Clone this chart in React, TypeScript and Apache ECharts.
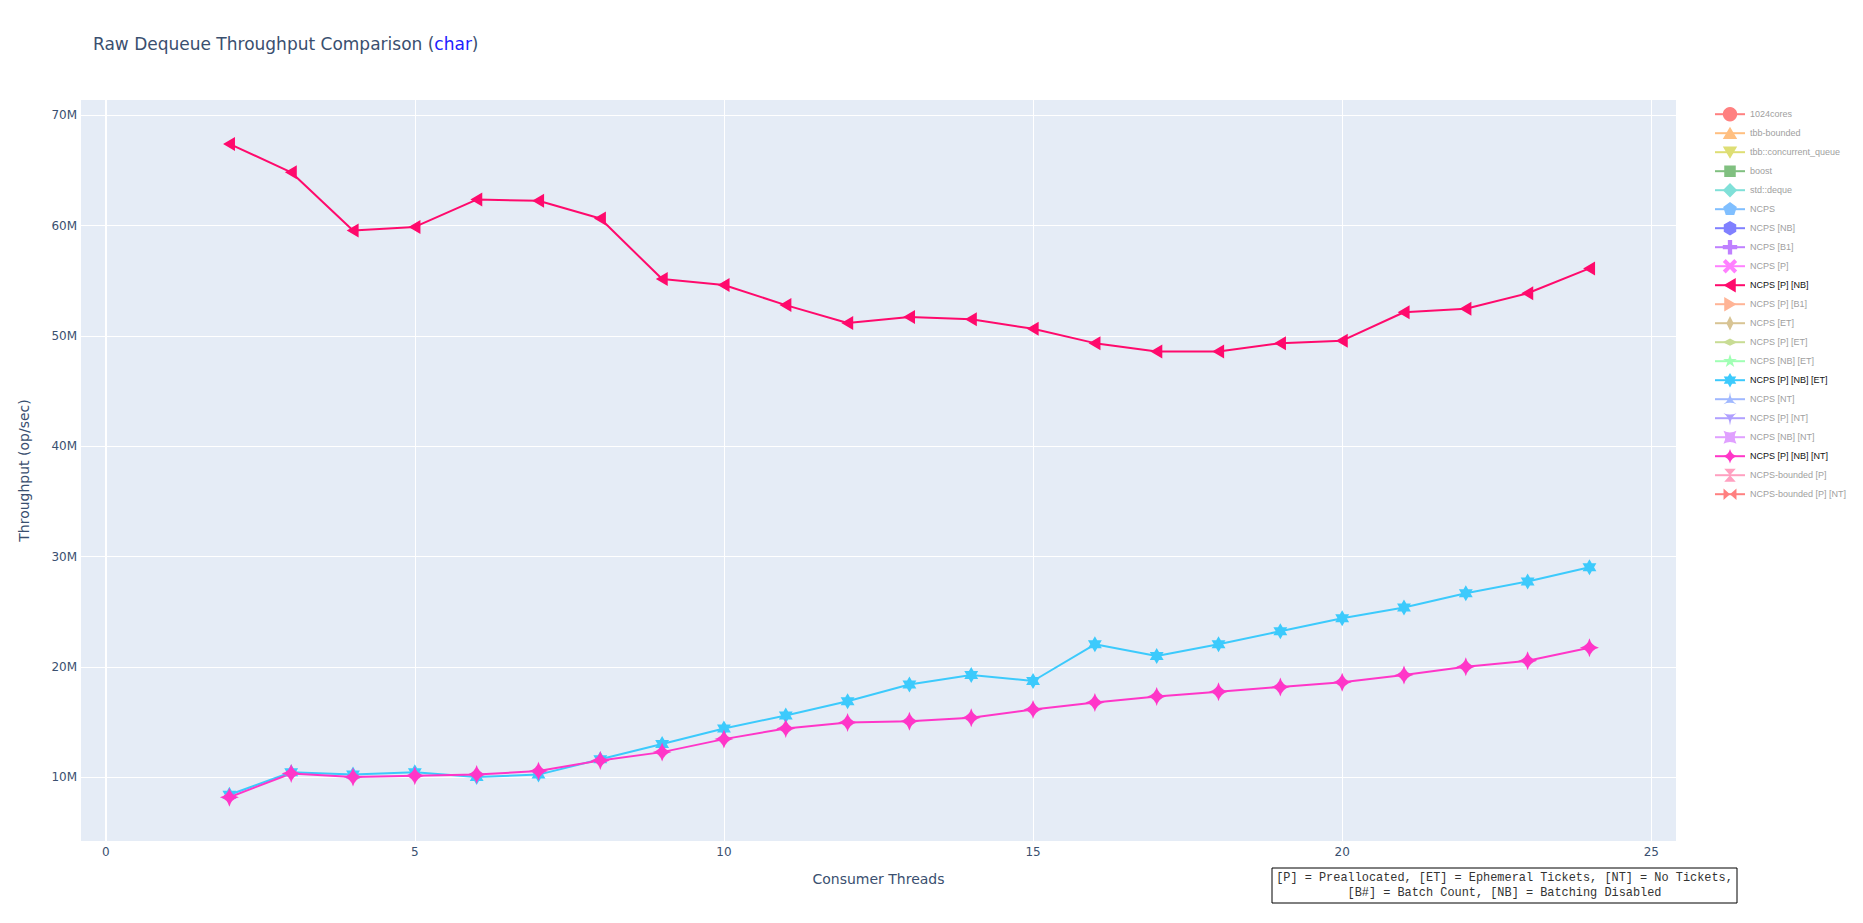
import React, { useEffect, useRef } from "react";
import * as echarts from "echarts";

const threads = [2, 3, 4, 5, 6, 7, 8, 9, 10, 11, 12, 13, 14, 15, 16, 17, 18, 19, 20, 21, 22, 23, 24];

// values in millions of op/sec
const ncpsPNB = [67.42, 64.84, 59.57, 59.89, 62.37, 62.26, 60.65, 55.16, 54.62, 52.8, 51.18, 51.72, 51.51, 50.65, 49.35, 48.6, 48.6, 49.35, 49.57, 52.15, 52.47, 53.87, 56.13];
const ncpsPNBET = [8.39, 10.43, 10.22, 10.43, 10.0, 10.22, 11.61, 13.0, 14.41, 15.59, 16.88, 18.39, 19.25, 18.71, 22.04, 20.97, 22.04, 23.23, 24.41, 25.38, 26.67, 27.74, 29.03];
const ncpsPNBNT = [8.17, 10.32, 10.0, 10.11, 10.22, 10.54, 11.51, 12.26, 13.44, 14.41, 14.95, 15.05, 15.38, 16.13, 16.77, 17.31, 17.74, 18.17, 18.6, 19.25, 20.0, 20.54, 21.72];

const xTicks = [0, 5, 10, 15, 20, 25];
const yTicks = [10, 20, 30, 40, 50, 60, 70];

const seriesNames = [
  "1024cores", "tbb-bounded", "tbb::concurrent_queue", "boost", "std::deque",
  "NCPS", "NCPS [NB]", "NCPS [B1]", "NCPS [P]", "NCPS [P] [NB]", "NCPS [P] [B1]",
  "NCPS [ET]", "NCPS [P] [ET]", "NCPS [NB] [ET]", "NCPS [P] [NB] [ET]",
  "NCPS [NT]", "NCPS [P] [NT]", "NCPS [NB] [NT]", "NCPS [P] [NB] [NT]",
  "NCPS-bounded [P]", "NCPS-bounded [P] [NT]",
];

const sq = (d: string) => `path://M0,0 L0.01,0 L0,0.01 Z M20,20 L19.99,20 L20,19.99 Z ${d}`;

const SYM: Record<string, string> = {
  circle: "circle",
  triUp: sq("M10,1 L20,18 L0,18 Z"),
  triDown: sq("M0,2 L20,2 L10,19 Z"),
  square: sq("M2,2 L18,2 L18,18 L2,18 Z"),
  diamond: sq("M10,0 L20,10 L10,20 L0,10 Z"),
  pentagon: sq("M10,0 L19.5,6.9 L15.9,18.1 L4.1,18.1 L0.5,6.9 Z"),
  hexagon: sq("M10,0 L18.66,5 L18.66,15 L10,20 L1.34,15 L1.34,5 Z"),
  cross: sq("M7,0 L13,0 L13,7 L20,7 L20,13 L13,13 L13,20 L7,20 L7,13 L0,13 L0,7 L7,7 Z"),
  x: sq("M0,4 L4,0 L10,6 L16,0 L20,4 L14,10 L20,16 L16,20 L10,14 L4,20 L0,16 L6,10 Z"),
  triLeft: sq("M1,10 L18,0 L18,20 Z"),
  triRight: sq("M19,10 L2,0 L2,20 Z"),
  diamondTall: sq("M10,0 L15,10 L10,20 L5,10 Z"),
  diamondWide: sq("M0,10 L10,5 L20,10 L10,15 Z"),
  star5: sq("M10,0 L12.25,6.91 L19.51,6.91 L13.63,11.18 L15.88,18.09 L10,13.82 L4.12,18.09 L6.37,11.18 L0.49,6.91 L7.75,6.91 Z"),
  star6: sq("M10,0 L12.89,5 L18.66,5 L15.77,10 L18.66,15 L12.89,15 L10,20 L7.11,15 L1.34,15 L4.23,10 L1.34,5 L7.11,5 Z"),
  starTriUp: sq("M10,0 Q11,12 19,17 Q10,13 1,17 Q9,12 10,0 Z"),
  starTriDown: sq("M10,20 Q11,8 19,3 Q10,7 1,3 Q9,8 10,20 Z"),
  starSquare: sq("M1,1 Q10,6 19,1 Q14,10 19,19 Q10,14 1,19 Q6,10 1,1 Z"),
  starDiamond: sq("M10,0 Q12,8 20,10 Q12,12 10,20 Q8,12 0,10 Q8,8 10,0 Z"),
  hourglass: sq("M2,1 L18,1 L10,10 Z M10,10 L18,19 L2,19 Z"),
  bowtie: sq("M1,2 L1,18 L10,10 Z M10,10 L19,2 L19,18 Z"),
};

const seriesSymbols = [
  "circle", "triUp", "triDown", "square", "diamond",
  "pentagon", "hexagon", "cross", "x", "triLeft", "triRight",
  "diamondTall", "diamondWide", "star5", "star6",
  "starTriUp", "starTriDown", "starSquare", "starDiamond",
  "hourglass", "bowtie",
];

const seriesColors = [
  "#ff8080", "#ffbf80", "#dede74", "#80c080", "#80e0d8",
  "#80bfff", "#8080ff", "#bf80ff", "#ff80ff", "#ff0a6c", "#ffb496",
  "#d8c494", "#c8dc94", "#a0ffb4", "#3ccafc",
  "#a0b8ff", "#b0a0ff", "#e0a0ff", "#ff36c8",
  "#ffa0c0", "#ff8080",
];

const visibleData: Record<string, number[]> = {
  "NCPS [P] [NB]": ncpsPNB,
  "NCPS [P] [NB] [ET]": ncpsPNBET,
  "NCPS [P] [NB] [NT]": ncpsPNBNT,
};

const markerSizes: Record<string, any> = {
  "NCPS [P] [NB]": 14,
  "NCPS [P] [NB] [ET]": 16,
  "NCPS [P] [NB] [NT]": 19,
};

const FONT = "DejaVu Sans";

export default function App() {
  const ref = useRef<HTMLDivElement>(null);
  useEffect(() => {
    if (!ref.current) return;
    const chart = echarts.init(ref.current, undefined, { renderer: "svg" });
    const series: any[] = seriesNames.map((name, i) => {
      const vals = visibleData[name];
      return {
        name,
        type: "line",
        data: vals ? threads.map((t, j) => [t, vals[j]]) : [],
        symbol: SYM[seriesSymbols[i]],
        symbolSize: markerSizes[name] || 12,
        showSymbol: true,
        color: seriesColors[i],
        itemStyle: { color: seriesColors[i], borderWidth: 0 },
        lineStyle: { color: seriesColors[i], width: 2 },
        emphasis: { disabled: true },
        z: 3,
      };
    });
    series.push({
      name: "__zero",
      type: "line",
      data: [],
      silent: true,
      markLine: {
        silent: true,
        symbol: "none",
        label: { show: false },
        lineStyle: { color: "#ffffff", width: 2, type: "solid" },
        data: [{ xAxis: 0 }],
      },
      z: 1,
    });
    const option: any = {
      animation: false,
      backgroundColor: "#ffffff",
      title: {
        text: "{a|Raw Dequeue Throughput Comparison (}{b|char}{a|)}",
        left: 93,
        top: 35,
        padding: 0,
        textStyle: {
          fontWeight: "normal",
          rich: {
            a: { fontFamily: FONT, fontSize: 17, fontWeight: "normal", color: "#3a4f6f" },
            b: { fontFamily: FONT, fontSize: 17, fontWeight: "normal", color: "#2020ff" },
          },
        },
      },
      legend: {
        orient: "vertical",
        left: 1714,
        top: 107,
        itemWidth: 30,
        itemHeight: 18,
        itemGap: 4.6,
        padding: 0,
        textStyle: { fontFamily: "Liberation Sans", fontSize: 9, color: "#999999" },
        data: seriesNames.map((name) => ({
          name,
          textStyle: { color: visibleData[name] ? "#111111" : "#a0a0a0" },
        })),
        selectedMode: false,
      },
      grid: {
        left: 81,
        right: 187,
        top: 100,
        bottom: 82,
        show: true,
        backgroundColor: "#E5ECF6",
        borderWidth: 0,
        containLabel: false,
      },
      xAxis: {
        type: "value",
        min: -0.4,
        max: 25.4,
        name: "Consumer Threads",
        nameLocation: "middle",
        nameGap: 31,
        nameTextStyle: { fontFamily: FONT, fontSize: 14, color: "#3a4f6f" },
        axisLine: { show: false },
        axisTick: { show: false, customValues: xTicks },
        axisLabel: {
          customValues: xTicks,
          fontFamily: FONT,
          fontSize: 12,
          color: "#3a4f6f",
          margin: 5,
        },
        splitLine: { show: true, lineStyle: { color: "#ffffff", width: 1 } },
      },
      yAxis: {
        type: "value",
        min: 4.2,
        max: 71.4,
        name: "Throughput (op/sec)",
        nameLocation: "middle",
        nameGap: 50,
        nameTextStyle: { fontFamily: FONT, fontSize: 14, color: "#3a4f6f" },
        axisLine: { show: false },
        axisTick: { show: false, customValues: yTicks },
        axisLabel: {
          customValues: yTicks,
          formatter: (v: number) => `${Math.round(v)}M`,
          fontFamily: FONT,
          fontSize: 12,
          color: "#3a4f6f",
          margin: 4,
        },
        splitLine: { show: true, lineStyle: { color: "#ffffff", width: 1 } },
      },
      graphic: [
        {
          type: "rect",
          shape: { x: 1272, y: 868, width: 465, height: 35 },
          style: { fill: "#ffffff", stroke: "#000000", lineWidth: 1 },
          z: 10,
        },
        {
          type: "text",
          x: 1504.5,
          y: 878,
          style: {
            text: "[P] = Preallocated, [ET] = Ephemeral Tickets, [NT] = No Tickets,",
            fontFamily: "Liberation Mono",
            fontSize: 11.9,
            fill: "#333333",
            align: "center",
            verticalAlign: "middle",
          },
          z: 11,
        },
        {
          type: "text",
          x: 1504.5,
          y: 893,
          style: {
            text: "[B#] = Batch Count, [NB] = Batching Disabled",
            fontFamily: "Liberation Mono",
            fontSize: 11.9,
            fill: "#333333",
            align: "center",
            verticalAlign: "middle",
          },
          z: 11,
        },
      ],
      series,
    };
    chart.setOption(option);
    return () => chart.dispose();
  }, []);
  return (
    <div
      ref={ref}
      style={{ position: "fixed", left: 0, top: 0, width: "1863px", height: "923px" }}
    />
  );
}
